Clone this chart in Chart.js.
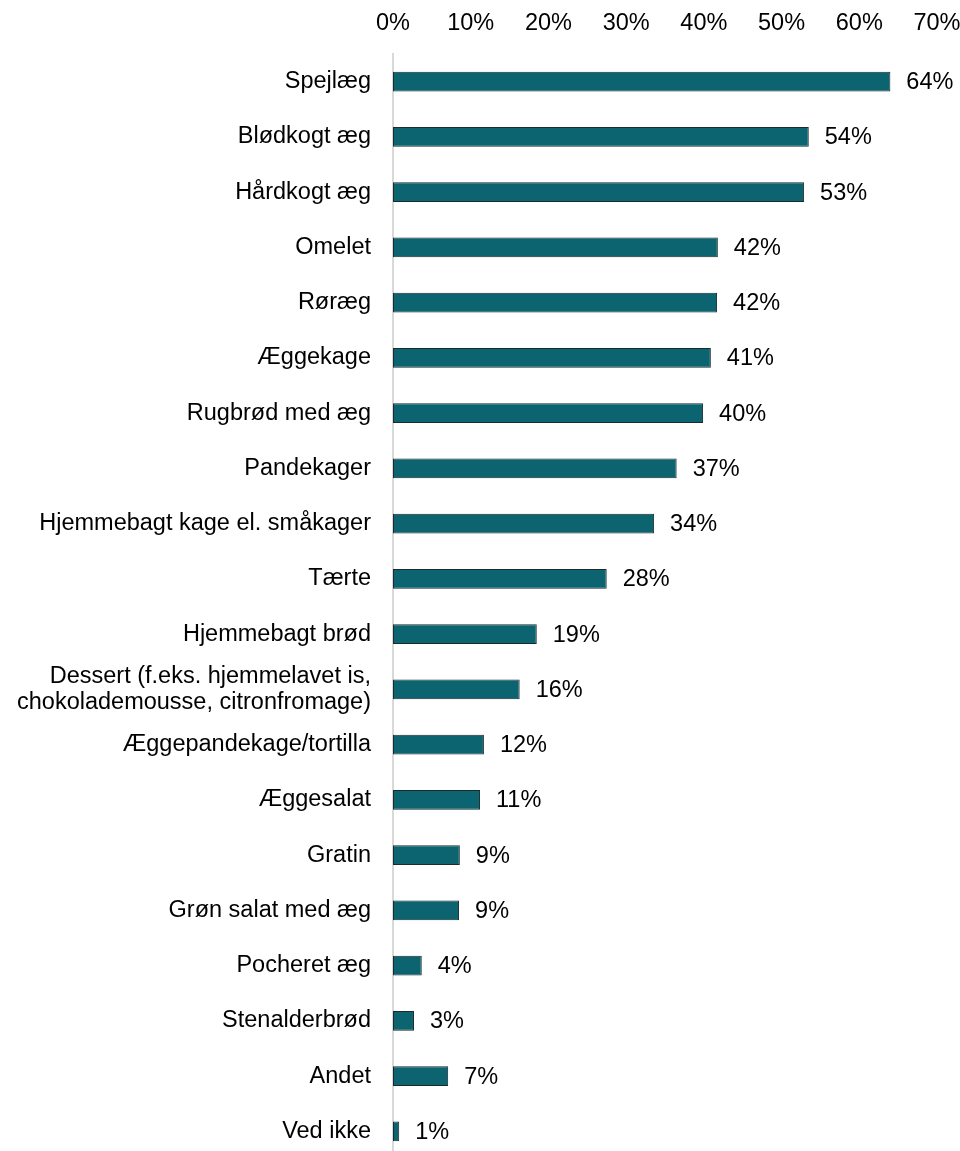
<!DOCTYPE html>
<html>
<head>
<meta charset="utf-8">
<script src="https://cdn.jsdelivr.net/npm/chart.js@4"></script>
<style>
  html, body { margin: 0; padding: 0; background: #fff; overflow: hidden; }
  canvas { display: block; }
</style>
</head>
<body>
<canvas id="myChart" width="960" height="1159"></canvas>
<script>
// data
const categories = [
    "Spejlæg",
    "Blødkogt æg",
    "Hårdkogt æg",
    "Omelet",
    "Røræg",
    "Æggekage",
    "Rugbrød med æg",
    "Pandekager",
    "Hjemmebagt kage el. småkager",
    "Tærte",
    "Hjemmebagt brød",
    ["Dessert (f.eks. hjemmelavet is,", "chokolademousse, citronfromage)"],
    "Æggepandekage/tortilla",
    "Æggesalat",
    "Gratin",
    "Grøn salat med æg",
    "Pocheret æg",
    "Stenalderbrød",
    "Andet",
    "Ved ikke",
];
const values = [64.0, 53.5, 52.9, 41.8, 41.7, 40.9, 39.9, 36.5, 33.6, 27.5, 18.5, 16.3, 11.7, 11.2, 8.6, 8.5, 3.7, 2.7, 7.1, 0.8];
const valueLabels = ["64%", "54%", "53%", "42%", "42%", "41%", "40%", "37%", "34%", "28%", "19%", "16%", "12%", "11%", "9%", "9%", "4%", "3%", "7%", "1%"];
const tickValues = [0, 10, 20, 30, 40, 50, 60, 70];

const FONT = "'Liberation Sans', Arial, sans-serif";
const FSIZE = 23.5;

// labels til højre for søjlerne
const barLabels = {
    id: "barLabels",
    afterDatasetsDraw(chart) {
        const ctx = chart.ctx;
        const meta = chart.getDatasetMeta(0);
        ctx.save();
        ctx.font = FSIZE + "px " + FONT;
        ctx.fillStyle = "#000";
        ctx.textAlign = "left";
        ctx.textBaseline = "middle";
        meta.data.forEach((bar, i) => {
            ctx.fillText(valueLabels[i], bar.x + 16, bar.y + 1);
        });
        ctx.restore();
    },
};

new Chart(document.getElementById("myChart"), {
    type: "bar",
    data: {
        labels: categories,
        datasets: [
            {
                data: values,
                backgroundColor: "#0b6470",
                borderColor: "#1b2a2c",
                borderWidth: 1,
                borderSkipped: false,
                categoryPercentage: 1,
                barPercentage: 0.36,
            },
        ],
    },
    options: {
        indexAxis: "y",
        responsive: false,
        animation: false,
        layout: { padding: { top: 10, right: 23, bottom: 0, left: 0 } },
        plugins: {
            legend: { display: false },
            tooltip: { enabled: false },
        },
        scales: {
            x: {
                position: "top",
                min: 0,
                max: 70,
                afterBuildTicks: (scale) => {
                    scale.ticks = tickValues.map((v) => ({ value: v }));
                },
                afterFit: (scale) => {
                    scale.height = 44;
                    scale.paddingTop = 0;
                    scale.paddingBottom = 0;
                    scale.paddingLeft = 0;
                    scale.paddingRight = 0;
                },
                grid: { display: false, drawTicks: false },
                border: { display: false },
                ticks: {
                    padding: 16,
                    color: "#000",
                    maxRotation: 0,
                    autoSkip: false,
                    font: { family: FONT, size: FSIZE, lineHeight: 1.2 },
                    callback: (v) => v + "%",
                },
            },
            y: {
                afterFit: (scale) => {
                    scale.width = 393;
                    scale.paddingTop = 0;
                    scale.paddingBottom = 0;
                },
                grid: { display: false, drawTicks: false },
                border: { display: true, color: "#d9d9d9", width: 2 },
                ticks: {
                    padding: 22,
                    color: "#000",
                    autoSkip: false,
                    font: { family: FONT, size: FSIZE, lineHeight: 1.1 },
                },
            },
        },
    },
    plugins: [barLabels],
});
</script>
</body>
</html>
